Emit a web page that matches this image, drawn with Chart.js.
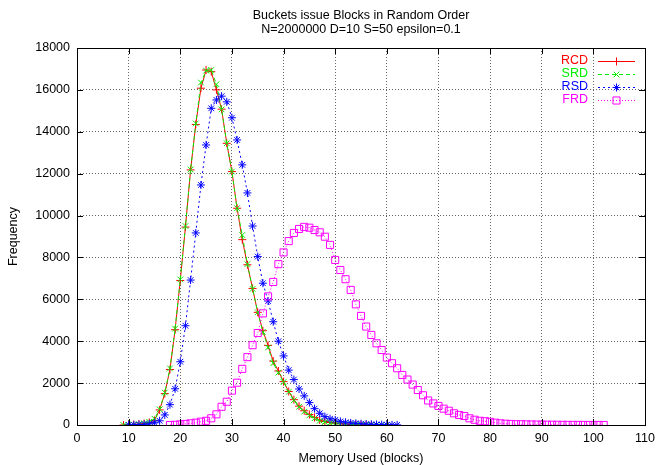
<!DOCTYPE html>
<html>
<head>
<meta charset="utf-8">
<script src="https://cdn.jsdelivr.net/npm/chart.js@4/dist/chart.umd.min.js"></script>
<style>
  html, body { margin: 0; padding: 0; background: #fff; }
  canvas { display: block; }
</style>
</head>
<body>
<canvas id="graph" width="661" height="465"></canvas>
<script>
// Memory used (blocks) - shared x values
const memoryBlocks = [
  9, 10, 11, 12, 13, 14, 15, 16, 17, 18, 19, 20, 21, 22, 23, 24, 25, 26, 27, 28,
  29, 30, 31, 32, 33, 34, 35, 36, 37, 38, 39, 40, 41, 42, 43, 44, 45, 46, 47, 48,
  49, 50, 51, 52, 53, 54, 55, 56, 57, 58, 59, 60, 61, 62, 63, 64, 65, 66, 67, 68,
  69, 70, 71, 72, 73, 74, 75, 76, 77, 78, 79, 80, 81, 82, 83, 84, 85, 86, 87, 88,
  89, 90, 91, 92, 93, 94, 95, 96, 97, 98, 99, 100, 101, 102,
];

// Frequency per series (aligned with memoryBlocks, missing = no point)
const rcdFreq = [
  0, 10, 20, 40, 70, 120, 220, 720, 1500, 2650, 4550, 6900, 9450, 12180, 14350,
  16080, 16950, 16870, 16000, 15080, 13450, 12100, 10350, 8850, 7650, 6520, 5380,
  4500, 3800, 3050, 2580, 2070, 1600, 1210, 900, 680, 500, 360, 240, 170, 120, 90,
  60, 45, 30, 20, 15, 10, 5, 3,
];
const srdFreq = [
  0, 10, 20, 40, 80, 150, 300, 750, 1550, 2700, 4600, 6950, 9500, 12200, 14400,
  16350, 16920, 16950, 16270, 15070, 13450, 12100, 10350, 9070, 7680, 6500, 5380,
  4450, 3700, 2950, 2500, 2050, 1580, 1180, 870, 640, 460, 320, 200, 140, 100, 70,
  50, 35, 25, 18, 12, 8, 5, 3, 2, 1,
];
const rsdFreq = [
  null, 0, 10, 20, 30, 60, 110, 200, 480, 970, 1730, 3020, 4740, 6920, 9170, 11460,
  13370, 15120, 15520, 15700, 15430, 14670, 13610, 12420, 11080, 9500, 8040, 6770,
  5920, 4930, 4000, 3300, 2620, 2170, 1720, 1390, 1070, 780, 560, 400, 300, 240,
  170, 130, 100, 80, 60, 45, 35, 25, 18, 12, 8, 5,
];
const frdFreq = [
  null, null, null, null, null, null, null, null, null,
  0, 10, 30, 50, 80, 110, 160, 200, 320, 510,
  870, 1110, 1640, 2020, 2680, 3240, 3810, 4390, 5330, 6140,
  6830, 7680, 8240, 8780, 9170, 9360, 9460, 9420, 9310, 9200,
  8990, 8600, 7880, 7400, 6960, 6450, 5760, 5210, 4700, 4300,
  3900, 3580, 3220, 2950, 2710, 2390, 2170, 1930, 1670, 1420,
  1170, 1030, 910, 780, 680, 560, 480, 430, 320, 250,
  200, 180, 150, 110, 80, 60, 50, 40, 35, 30,
  25, 20, 18, 15, 12, 10, 8, 6, 5, 4,
  3, 2, 2, 1, 1,
];

const seriesNames = ["RCD", "SRD", "RSD", "FRD"];
const titleLines = [
  "Buckets issue Blocks in Random Order",
  "N=2000000 D=10 S=50 epsilon=0.1",
];
const xTitle = "Memory Used (blocks)";
const yTitle = "Frequency";

const FONT = "'Liberation Sans', Arial, Helvetica, sans-serif";
const FONT_SIZE = 12.5;

const toPoints = (values) =>
  memoryBlocks
    .map((x, i) => ({ x, y: values[i] }))
    .filter((p) => p.y !== null && p.y !== undefined);

// line look per series (gnuplot style)
const styles = [
  { color: "#ff0000", dash: [], point: "cross", radius: 4 },
  { color: "#00ee00", dash: [4, 3], point: "crossRot", radius: 4 },
  { color: "#0000ff", dash: [2, 3], point: "star", radius: 4 },
  { color: "#ff00ff", dash: [1, 2], point: "rect", radius: 5 },
];
const allFreq = [rcdFreq, srdFreq, rsdFreq, frdFreq];

// 枠・目盛・タイトル・凡例を描く
const gnuplotFrame = {
  id: "gnuplotFrame",
  afterDraw(chart) {
    const { ctx, chartArea: a, scales } = chart;
    ctx.save();
    ctx.strokeStyle = "#000";
    ctx.lineWidth = 1;
    ctx.setLineDash([]);
    ctx.strokeRect(Math.round(a.left) + 0.5, Math.round(a.top) + 0.5,
      Math.round(a.right - a.left), Math.round(a.bottom - a.top));

    // inner ticks on all sides
    const tick = 6;
    ctx.beginPath();
    scales.x.ticks.forEach((t) => {
      const px = Math.round(scales.x.getPixelForValue(t.value)) + 0.5;
      ctx.moveTo(px, a.bottom);
      ctx.lineTo(px, a.bottom - tick);
      ctx.moveTo(px, a.top);
      ctx.lineTo(px, a.top + tick);
    });
    scales.y.ticks.forEach((t) => {
      const py = Math.round(scales.y.getPixelForValue(t.value)) + 0.5;
      ctx.moveTo(a.left, py);
      ctx.lineTo(a.left + tick, py);
      ctx.moveTo(a.right, py);
      ctx.lineTo(a.right - tick, py);
    });
    ctx.stroke();

    // titles
    const cx = (a.left + a.right) / 2;
    ctx.fillStyle = "#000";
    ctx.font = `${FONT_SIZE}px ${FONT}`;
    ctx.textAlign = "center";
    ctx.textBaseline = "middle";
    ctx.fillText(titleLines[0], cx, 16);
    ctx.fillText(titleLines[1], cx, 30);
    ctx.fillText(xTitle, cx, 459);
    ctx.save();
    ctx.translate(14, (a.top + a.bottom) / 2);
    ctx.rotate(-Math.PI / 2);
    ctx.fillText(yTitle, 0, 0);
    ctx.restore();

    // legend
    const textRight = 588;
    const lineFrom = 598;
    const lineTo = 635;
    seriesNames.forEach((name, i) => {
      const y = 61 + i * 12.9;
      const ly = Math.round(y) + 0.5;
      const s = styles[i];
      ctx.fillStyle = s.color;
      ctx.textAlign = "right";
      ctx.fillText(name, textRight, y);
      ctx.strokeStyle = s.color;
      ctx.lineWidth = 1;
      ctx.setLineDash(s.dash);
      ctx.beginPath();
      ctx.moveTo(lineFrom, ly);
      ctx.lineTo(lineTo, ly);
      ctx.stroke();
      ctx.setLineDash([]);
      ctx.fillStyle = "rgba(0,0,0,0)";
      Chart.helpers.drawPoint(ctx, {
        pointStyle: s.point,
        radius: s.radius,
        rotation: 0,
        borderWidth: 1,
      }, (lineFrom + lineTo) / 2, ly);
    });
    ctx.restore();
  },
};

new Chart(document.getElementById("graph").getContext("2d"), {
  type: "line",
  data: {
    datasets: seriesNames.map((name, i) => ({
      label: name,
      data: toPoints(allFreq[i]),
      borderColor: styles[i].color,
      backgroundColor: "rgba(0,0,0,0)",
      borderWidth: 1,
      borderDash: styles[i].dash,
      pointStyle: styles[i].point,
      pointRadius: styles[i].radius,
      pointBorderWidth: 1,
      pointBorderColor: styles[i].color,
      pointBackgroundColor: "rgba(0,0,0,0)",
      tension: 0,
      fill: false,
      order: 4 - i,
    })),
  },
  options: {
    responsive: false,
    animation: false,
    events: [],
    layout: { padding: { top: 48, right: 11, left: 0, bottom: 0 } },
    plugins: {
      legend: { display: false },
      tooltip: { enabled: false },
      title: { display: false },
    },
    scales: {
      x: {
        type: "linear",
        min: 0,
        max: 110,
        ticks: {
          stepSize: 10,
          padding: 6,
          maxRotation: 0,
          color: "#000",
          font: { family: FONT, size: FONT_SIZE },
          callback: (value) => String(value),
        },
        grid: { color: "#666", drawTicks: false },
        border: { display: false, dash: [1, 2] },
        afterFit(scale) {
          scale.height = 40;
        },
      },
      y: {
        min: 0,
        max: 18000,
        ticks: {
          stepSize: 2000,
          padding: 7,
          color: "#000",
          font: { family: FONT, size: FONT_SIZE },
          callback: (value) => String(value),
        },
        grid: { color: "#666", drawTicks: false },
        border: { display: false, dash: [1, 2] },
        afterFit(scale) {
          scale.width = 77;
        },
      },
    },
  },
  plugins: [gnuplotFrame],
});
</script>
</body>
</html>
